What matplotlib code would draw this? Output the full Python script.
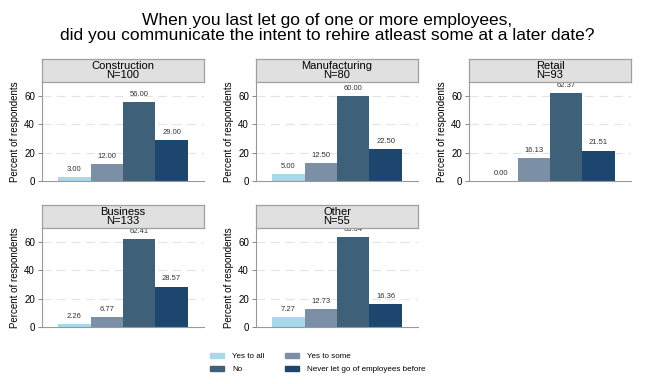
import numpy as np
import matplotlib.pyplot as plt

plt.rcParams['font.family'] = ['Liberation Sans', 'DejaVu Sans']

# data
sectors = ['Construction', 'Manufacturing', 'Retail', 'Business', 'Other']
n_resp = [100, 80, 93, 133, 55]
answers = ['Yes to all', 'Yes to some', 'No', 'Never let go of employees before']
yes_all = [3.00, 5.00, 0.00, 2.26, 7.27]
yes_some = [12.00, 12.50, 16.13, 6.77, 12.73]
no = [56.00, 60.00, 62.37, 62.41, 63.64]
never = [29.00, 22.50, 21.51, 28.57, 16.36]
colors = ['#a8d8ea', '#7b8fa6', '#3e6079', '#1d466e']

W, H = 654, 384
fig = plt.figure(figsize=(W / 100, H / 100), dpi=100)

def box(x0, y0, x1, y1):
    # pixel box (top-left origin) -> figure coords
    return [x0 / W, 1 - y1 / H, (x1 - x0) / W, (y1 - y0) / H]

lefts = [42, 256, 469]
pw = 162
rows = [(59, 82, 181), (205, 228, 327)]

for k, name in enumerate(sectors):
    r, c = divmod(k, 3)
    htop, ptop, pbot = rows[r]
    x0 = lefts[c]
    ax = fig.add_axes(box(x0, ptop, x0 + pw, pbot))
    vals = [yes_all[k], yes_some[k], no[k], never[k]]
    xs = np.arange(4)
    ax.bar(xs, vals, width=1.0, color=colors, zorder=2)
    for x, v in zip(xs, vals):
        ax.annotate('%.2f' % v, (x, v), xytext=(0, 3), textcoords='offset points',
                    ha='center', va='bottom', fontsize=5.5, color='#333333',
                    clip_on=True)
    ax.set_xlim(-1, 4)
    ax.set_ylim(0, 70)
    ax.set_yticks([0, 20, 40, 60])
    ax.set_xticks([])
    for y in [20, 40, 60]:
        ax.axhline(y, color='#e4e4e4', lw=0.8, ls=(0, (8, 5)), zorder=1)
    ax.tick_params(axis='y', labelsize=7, length=3, width=0.7, color='#888888', pad=2)
    for s in ['top', 'right']:
        ax.spines[s].set_visible(False)
    for s in ['left', 'bottom']:
        ax.spines[s].set_color('#999999')
        ax.spines[s].set_linewidth(0.8)
    ax.set_ylabel('Percent of respondents', fontsize=7, labelpad=3)

    hx = fig.add_axes(box(x0, htop, x0 + pw, ptop))
    hx.set_facecolor('#e0e0e0')
    hx.set_xticks([])
    hx.set_yticks([])
    for s in hx.spines.values():
        s.set_color('#a0a0a0')
        s.set_linewidth(0.9)
    hx.text(0.5, 0.5, '%s\nN=%d' % (name, n_resp[k]), ha='center', va='center',
            fontsize=8, linespacing=0.95, transform=hx.transAxes)

fig.text(0.5, 1 - 28 / H, 'When you last let go of one or more employees,\n'
         'did you communicate the intent to rehire atleast some at a later date?',
         ha='center', va='center', fontsize=12.5, linespacing=1.05)

handles = [plt.Rectangle((0, 0), 1, 1, color=col) for col in colors]
order = [0, 2, 1, 3]
fig.legend([handles[i] for i in order], [answers[i] for i in order], ncol=2,
           loc='center', bbox_to_anchor=(0.486, 1 - 363 / H), frameon=False,
           fontsize=5.8, handlelength=1.7, handleheight=0.6, columnspacing=2.6,
           labelspacing=0.7, handletextpad=1.0)

fig.savefig('out.png', dpi=100, facecolor='white')
